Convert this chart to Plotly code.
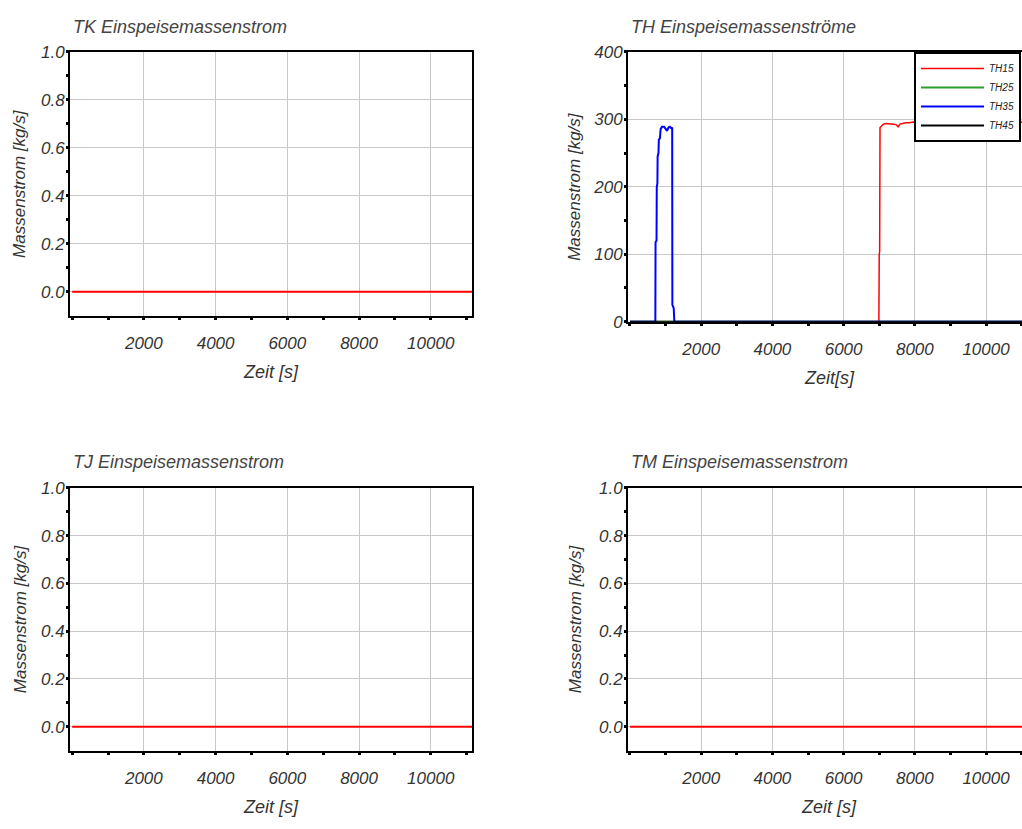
import plotly.graph_objects as go

# ---------------- data ----------------
t_empty = [0, 11200]
tk_flow = [0, 0]
tj_flow = [0, 0]
tm_flow = [0, 0]

th15_t = [0, 6990, 7000, 7012, 7022, 7060, 7120, 7200, 7300, 7400, 7480, 7530, 7580, 7650,
          7750, 7850, 7950, 8500, 9000, 9500, 10000, 10500, 11200]
th15_v = [0, 0, 100, 104, 288, 290, 293, 294, 294, 293, 292, 289, 293, 294,
          295, 295, 296, 295, 296, 295, 296, 295, 296]
th25_t = [0, 11200]
th25_v = [0, 0]
th35_t = [0, 712, 718, 745, 752, 770, 776, 800, 810, 840, 862, 900, 960, 1000, 1040,
          1080, 1120, 1160, 1185, 1190, 1228, 1245, 11200]
th35_v = [0, 0, 118, 120, 200, 205, 245, 250, 270, 272, 286, 289, 289, 286, 283,
          288, 289, 287, 288, 25, 20, 0, 0]
th45_t = [0, 11200]
th45_v = [0, 0]

titles = ["TK Einspeisemassenstrom", "TH Einspeisemassenströme",
          "TJ Einspeisemassenstrom", "TM Einspeisemassenstrom"]
x_titles = ["Zeit [s]", "Zeit[s]", "Zeit [s]", "Zeit [s]"]
y_title = "Massenstrom [kg/s]"
x_ticks = [2000, 4000, 6000, 8000, 10000]
x_ticklabels = ["2000", "4000", "6000", "8000", "10000"]
kg_ticks = [0, 0.2, 0.4, 0.6, 0.8, 1.0]
kg_minor = [0.1, 0.3, 0.5, 0.7, 0.9]
th_ticks = [0, 100, 200, 300, 400]

# ---------------- layout helpers ----------------
W, H = 1022, 829
FONT = "Liberation Sans, Arial, sans-serif"
TXT = "#333333"


def px(x):
    return x / W


def py(y):
    return 1 - y / H


fig = go.Figure()

# panel geometry (pixels): left, right, top, bottom
panels = {
    1: dict(l=70, r=472, t=44, b=314, xr=[-60, 11150]),
    2: dict(l=628, r=1022, t=44, b=320, xr=[-56, 11010]),
    3: dict(l=70, r=472, t=490, b=759, xr=[-60, 11150]),
    4: dict(l=628, r=1022, t=490, b=759, xr=[-56, 11010]),
}

# traces
fig.add_trace(go.Scatter(x=t_empty, y=tk_flow, mode="lines", line=dict(color="#ff0000", width=2),
                         showlegend=False, xaxis="x", yaxis="y"))
fig.add_trace(go.Scatter(x=th15_t, y=th15_v, mode="lines", name="TH15",
                         line=dict(color="#ff0000", width=1.5), xaxis="x2", yaxis="y2"))
fig.add_trace(go.Scatter(x=th25_t, y=th25_v, mode="lines", name="TH25",
                         line=dict(color="#2ca02c", width=2), xaxis="x2", yaxis="y2"))
fig.add_trace(go.Scatter(x=th35_t, y=th35_v, mode="lines", name="TH35",
                         line=dict(color="#0000ff", width=2), xaxis="x2", yaxis="y2"))
fig.add_trace(go.Scatter(x=th45_t, y=th45_v, mode="lines", name="TH45",
                         line=dict(color="#000000", width=2), xaxis="x2", yaxis="y2"))
fig.add_trace(go.Scatter(x=t_empty, y=tj_flow, mode="lines", line=dict(color="#ff0000", width=2),
                         showlegend=False, xaxis="x3", yaxis="y3"))
fig.add_trace(go.Scatter(x=t_empty, y=tm_flow, mode="lines", line=dict(color="#ff0000", width=2),
                         showlegend=False, xaxis="x4", yaxis="y4"))

tickfont = dict(family=FONT, size=17, color=TXT, style="italic")
layout = dict(width=W, height=H, margin=dict(l=0, r=0, t=0, b=0),
              paper_bgcolor="white", plot_bgcolor="white", showlegend=True)

annotations = []
for i, p in panels.items():
    sfx = "" if i == 1 else str(i)
    right_col = i in (2, 4)
    xa = dict(domain=[px(p["l"]), px(p["r"])], range=p["xr"], anchor="y" + sfx,
              tickvals=x_ticks, ticktext=x_ticklabels, showgrid=True, gridcolor="#c8c8c8",
              gridwidth=1, zeroline=False, showline=True, linecolor="black", linewidth=2,
              mirror=True, ticks="outside", ticklen=2, tickwidth=3, tickcolor="black",
              ticklabelstandoff=9,
              minor=dict(dtick=1000, tick0=0, ticks="outside", ticklen=2, tickwidth=3,
                         tickcolor="black", showgrid=False),
              tickfont=tickfont, fixedrange=True)
    if i == 2:
        ya = dict(range=[0, 400], tickvals=th_ticks, tickformat="d",
                  minor=dict(dtick=50, ticks="outside", ticklen=2, tickwidth=3,
                             tickcolor="black", showgrid=False))
    else:
        ya = dict(range=[-0.1, 1.0], tickvals=kg_ticks, tickformat=".1f",
                  minor=dict(tickvals=kg_minor, ticks="outside", ticklen=2,
                             tickwidth=3, tickcolor="black", showgrid=False))
    ya.update(domain=[py(p["b"]), py(p["t"])], anchor="x" + sfx, showgrid=True,
              gridcolor="#c8c8c8", gridwidth=1, zeroline=False, showline=True,
              linecolor="black", linewidth=2, mirror=not right_col, ticks="outside",
              ticklen=2, tickwidth=3, tickcolor="black", tickfont=tickfont,
              ticklabelstandoff=-2, fixedrange=True)
    layout["xaxis" + sfx] = xa
    layout["yaxis" + sfx] = ya

    # panel title
    annotations.append(dict(text=titles[i - 1], xref="paper", yref="paper",
                            x=px(p["l"] + 1), y=py(p["t"] - 26), xanchor="left", yanchor="middle",
                            showarrow=False,
                            font=dict(family=FONT, size=18, color="#444444", style="italic")))
    # x-axis title
    x_center = {1: 271, 2: 829, 3: 271, 4: 829}[i]
    annotations.append(dict(text=x_titles[i - 1], xref="paper", yref="paper",
                            x=px(x_center), y=py(p["b"] + 58), xanchor="center", yanchor="middle",
                            showarrow=False,
                            font=dict(family=FONT, size=18, color=TXT, style="italic")))
    # y-axis title
    y_x = 20 if not right_col else 575
    annotations.append(dict(text=y_title, xref="paper", yref="paper", textangle=-90,
                            x=px(y_x), y=py((p["t"] + p["b"]) / 2), xanchor="center",
                            yanchor="middle", showarrow=False,
                            font=dict(family=FONT, size=17, color=TXT, style="italic")))

layout["annotations"] = annotations
layout["legend"] = dict(x=px(914), y=py(44), xanchor="left", yanchor="top",
                        bgcolor="white", bordercolor="black", borderwidth=2,
                        font=dict(family=FONT, size=10, color="#222222", style="italic"),
                        itemwidth=63, tracegroupgap=0)

fig.update_layout(**layout)
fig.write_html("out.html")
